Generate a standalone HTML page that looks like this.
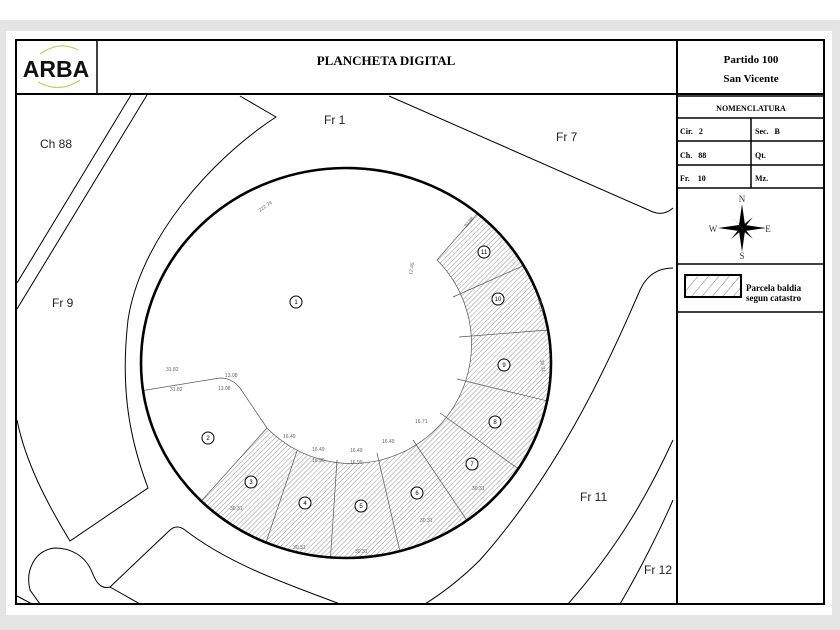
<!DOCTYPE html>
<html><head><meta charset="utf-8"><style>
html,body{margin:0;padding:0;background:#fff;}
svg{display:block}
</style></head><body>
<svg width="840" height="630" viewBox="0 0 840 630" xmlns="http://www.w3.org/2000/svg">
<defs>
<pattern id="h" width="3.5" height="3.5" patternUnits="userSpaceOnUse" patternTransform="rotate(45)">
<line x1="0" y1="0" x2="0" y2="3.5" stroke="#777" stroke-width="0.8"/>
</pattern>
<pattern id="h2" width="8" height="8" patternUnits="userSpaceOnUse" patternTransform="rotate(40)">
<line x1="0" y1="0" x2="0" y2="8" stroke="#444" stroke-width="0.7"/>
</pattern>
<clipPath id="map"><rect x="17" y="95" width="659" height="509"/></clipPath>
<clipPath id="circ"><ellipse cx="346" cy="363" rx="205" ry="195"/></clipPath>
</defs>
<rect x="0" y="0" width="840" height="630" fill="#ffffff"/>
<rect x="0" y="20" width="840" height="11" fill="#e4e4e4"/>
<rect x="0" y="20" width="6" height="610" fill="#e4e4e4"/>
<rect x="832" y="20" width="8" height="610" fill="#e4e4e4"/>
<rect x="0" y="615" width="840" height="15" fill="#e4e4e4"/>
<rect x="6" y="31" width="826" height="584" fill="#fff"/>

<rect x="16" y="40" width="808" height="564" fill="none" stroke="#000" stroke-width="2"/>
<line x1="16" y1="94" x2="824" y2="94" stroke="#000" stroke-width="2"/>
<line x1="97" y1="40" x2="97" y2="94" stroke="#000" stroke-width="1.5"/>
<line x1="677" y1="40" x2="677" y2="604" stroke="#000" stroke-width="2"/>
<g stroke="#000" stroke-width="1.5">
<line x1="677" y1="96" x2="824" y2="96"/>
<line x1="677" y1="118" x2="824" y2="118"/>
<line x1="677" y1="141" x2="824" y2="141"/>
<line x1="677" y1="165" x2="824" y2="165"/>
<line x1="677" y1="188" x2="824" y2="188"/>
<line x1="677" y1="264" x2="824" y2="264"/>
<line x1="677" y1="312" x2="824" y2="312"/>
<line x1="751" y1="118" x2="751" y2="188"/>
</g>

<path d="M40 54 Q60 40 78 50" fill="none" stroke="#b8d46a" stroke-width="1.2"/>
<path d="M38 82 Q60 94 80 80" fill="none" stroke="#b8d46a" stroke-width="1.2"/>
<text x="56" y="77" font-family="Liberation Sans, sans-serif" font-weight="bold" font-size="23" text-anchor="middle" fill="#111">ARBA</text>

<g font-family="Liberation Serif, serif" font-weight="bold" fill="#000">
<text x="386" y="65" font-size="13" text-anchor="middle">PLANCHETA DIGITAL</text>
<text x="751" y="63" font-size="11" text-anchor="middle">Partido 100</text>
<text x="751" y="82" font-size="11" text-anchor="middle">San Vicente</text>
<text x="751" y="111" font-size="8" text-anchor="middle">NOMENCLATURA</text>
<text x="680" y="134" font-size="8">Cir.&#160;&#160;&#160;2</text>
<text x="755" y="134" font-size="8">Sec.&#160;&#160;&#160;B</text>
<text x="680" y="158" font-size="8">Ch.&#160;&#160;&#160;88</text>
<text x="755" y="158" font-size="8">Qt.</text>
<text x="680" y="181" font-size="8">Fr.&#160;&#160;&#160;&#160;10</text>
<text x="755" y="181" font-size="8">Mz.</text>
<text x="746" y="291" font-size="9">Parcela baldia</text>
<text x="746" y="301" font-size="9">segun catastro</text>
</g>
<g font-family="Liberation Serif, serif" fill="#333" font-size="9" text-anchor="middle">
<text x="742" y="202">N</text><text x="742" y="259">S</text>
<text x="713" y="232">W</text><text x="768" y="232">E</text>
</g>
<g transform="translate(742,228)" fill="#000">
<polygon points="0,-24 3,-3 0,0 -3,-3"/>
<polygon points="0,24 3,3 0,0 -3,3"/>
<polygon points="-24,0 -3,3 0,0 -3,-3"/>
<polygon points="24,0 3,3 0,0 3,-3"/>
<polygon points="-11,-11 0,-2 2,0" />
<polygon points="11,-11 2,0 0,-2" />
<polygon points="-11,11 -2,0 0,2" />
<polygon points="11,11 0,2 2,0" />
</g>
<rect x="685" y="275" width="56" height="22" fill="url(#h2)" stroke="#000" stroke-width="2"/>

<g clip-path="url(#map)" fill="none" stroke="#000" stroke-width="1">
<line x1="131" y1="95" x2="17" y2="283"/>
<line x1="147" y1="95" x2="17" y2="309"/>
<path d="M240 96 L276 117 C210 160 140 240 128 320 C120 390 130 440 148 488 L70 541 C45 500 25 460 17 420"/>
<path d="M389 96 L653 212 Q664 216 673 208"/>
<path d="M673 268 Q650 268 640 290 C610 360 560 470 480 560 Q455 585 425 604"/>
<path d="M110 587 L170 530 Q177 524 185 530 C230 565 290 585 340 604"/>
<path d="M110 587 C100 590 95 580 92 572 C85 555 70 548 55 548 C35 550 25 570 30 590 L40 604"/>
<path d="M110 587 L140 604"/>
<line x1="17" y1="596" x2="32" y2="604"/>
<path d="M673 440 C650 490 620 545 568 604"/>
<path d="M673 500 C660 530 640 570 620 604"/>
</g>

<g clip-path="url(#circ)">
<path d="M160 547 L267 428 A119 119 0 0 0 437 260 L520 165 L620 250 L620 620 L150 620 Z" fill="url(#h)" stroke="#555" stroke-width="0.7"/>
<g stroke="#555" stroke-width="0.7" fill="none">
<line x1="297" y1="451" x2="260" y2="560"/>
<line x1="337" y1="460" x2="330" y2="565"/>
<line x1="377" y1="453" x2="402" y2="560"/>
<line x1="413" y1="440" x2="470" y2="525"/>
<line x1="440" y1="413" x2="520" y2="470"/>
<line x1="457" y1="379" x2="560" y2="404"/>
<line x1="459" y1="337" x2="560" y2="329"/>
<line x1="453" y1="297" x2="545" y2="256"/>
<path d="M140 391 L220 378 Q232 378 240 388 L267 428"/>
</g>
</g>
<ellipse cx="346" cy="363" rx="205" ry="195" fill="none" stroke="#000" stroke-width="2.6"/>

<g fill="#fff" stroke="#000" stroke-width="1">
<circle cx="296" cy="302" r="6"/><circle cx="208" cy="438" r="6"/><circle cx="251" cy="482" r="6"/>
<circle cx="305" cy="503" r="6"/><circle cx="361" cy="506" r="6"/><circle cx="417" cy="493" r="6"/>
<circle cx="472" cy="464" r="6"/><circle cx="495" cy="422" r="6"/><circle cx="504" cy="365" r="6"/>
<circle cx="498" cy="299" r="6"/><circle cx="484" cy="252" r="6"/>
</g>
<g font-family="Liberation Sans, sans-serif" font-size="6" text-anchor="middle" fill="#000">
<text x="296" y="304">1</text><text x="208" y="440">2</text><text x="251" y="484">3</text>
<text x="305" y="505">4</text><text x="361" y="508">5</text><text x="417" y="495">6</text>
<text x="472" y="466">7</text><text x="495" y="424">8</text><text x="504" y="367">9</text>
<text x="498" y="301">10</text><text x="484" y="254">11</text>
</g>
<g font-family="Liberation Sans, sans-serif" font-size="5" fill="#666">
<text x="166" y="371">31.82</text><text x="170" y="391">31.82</text>
<text x="225" y="377">13.08</text><text x="218" y="390">13.08</text>
<text x="283" y="438">16.49</text><text x="312" y="451">16.49</text><text x="350" y="452">16.49</text>
<text x="382" y="443">16.49</text><text x="415" y="423">16.71</text>
<text x="312" y="462">16.99</text><text x="350" y="464">16.99</text>
<text x="293" y="549">30.31</text><text x="355" y="553">30.31</text><text x="420" y="522">30.31</text>
<text x="230" y="510">30.31</text><text x="472" y="490">30.31</text>
<text transform="translate(260,212) rotate(-35)">222.74</text>
<text transform="translate(466,228) rotate(-50)">30.88</text>
<text transform="translate(412,275) rotate(-80)">12.45</text>
<text transform="translate(538,300) rotate(80)">30.31</text>
<text transform="translate(540,360) rotate(80)">30.31</text>
</g>

<g font-family="Liberation Sans, DejaVu Sans, sans-serif" font-size="12" fill="#222">
<text x="324" y="124">Fr 1</text>
<text x="40" y="148">Ch 88</text>
<text x="556" y="141">Fr 7</text>
<text x="52" y="307">Fr 9</text>
<text x="580" y="501">Fr 11</text>
<text x="644" y="574">Fr 12</text>
</g>
</svg>
</body></html>
